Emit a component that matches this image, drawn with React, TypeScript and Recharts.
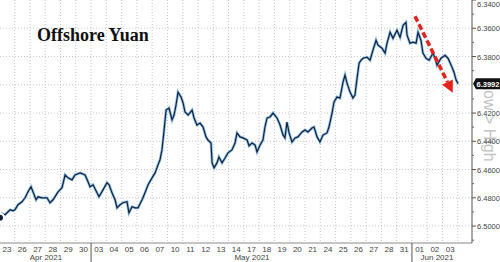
import * as React from "react";
import { LineChart, Line, XAxis, YAxis, CartesianGrid, ReferenceLine } from "recharts";

// trading days shown on the bottom axis (one slot per day)
const DAY_LABELS = ["23", "26", "27", "28", "29", "30", "03", "04", "05", "06", "07", "10", "11", "12", "13", "14", "17", "18", "19", "20", "21", "24", "25", "26", "27", "28", "31", "01", "02", "03"];
const MONTHS = [
  { label: "Apr 2021", at: 3.05 },
  { label: "May 2021", at: 16.53 },
  { label: "Jun 2021", at: 28.64 },
];
const MONTH_BREAKS = [6, 27];

// time in trading-day units, USD/CNH fix
const T = [0.04, 0.17, 0.37, 0.57, 0.7, 0.89, 1.02, 1.22, 1.48, 1.68, 1.87, 2.07, 2.2, 2.4, 2.53, 2.79, 3.12, 3.31, 3.51, 3.84, 4.1, 4.3, 4.49, 4.75, 4.95, 5.28, 5.61, 5.8, 5.93, 6.13, 6.39, 6.52, 6.78, 7.04, 7.18, 7.37, 7.57, 7.7, 7.9, 8.09, 8.35, 8.48, 8.68, 8.88, 9.07, 9.34, 9.53, 9.73, 9.99, 10.19, 10.38, 10.51, 10.64, 10.78, 10.91, 11.1, 11.3, 11.43, 11.56, 11.69, 11.89, 12.02, 12.15, 12.35, 12.61, 12.74, 12.93, 13.13, 13.33, 13.52, 13.65, 13.85, 13.92, 14.05, 14.24, 14.37, 14.57, 14.77, 14.96, 15.22, 15.42, 15.55, 15.75, 15.94, 16.21, 16.34, 16.53, 16.73, 16.86, 17.06, 17.25, 17.38, 17.52, 17.71, 17.91, 18.17, 18.37, 18.56, 18.69, 18.82, 18.96, 19.15, 19.35, 19.54, 19.81, 20.0, 20.2, 20.46, 20.59, 20.79, 20.98, 21.18, 21.44, 21.57, 21.77, 21.9, 22.1, 22.29, 22.49, 22.62, 22.75, 22.95, 23.14, 23.27, 23.41, 23.54, 23.67, 23.8, 24.06, 24.26, 24.45, 24.65, 24.78, 25.04, 25.24, 25.37, 25.57, 25.76, 26.02, 26.22, 26.42, 26.61, 26.68, 26.87, 27.07, 27.27, 27.4, 27.59, 27.72, 27.92, 28.12, 28.38, 28.51, 28.64, 28.9, 29.17, 29.36, 29.62, 29.75, 29.89, 30.02];
const CNH = [6.4941, 6.4913, 6.492, 6.4899, 6.4885, 6.4892, 6.4885, 6.4849, 6.4828, 6.48, 6.4758, 6.4722, 6.4758, 6.4814, 6.4793, 6.48, 6.48, 6.4835, 6.4814, 6.4758, 6.4729, 6.4638, 6.4659, 6.4673, 6.4638, 6.4624, 6.4638, 6.4687, 6.4722, 6.4708, 6.4765, 6.4793, 6.4744, 6.4694, 6.4708, 6.4765, 6.4814, 6.4871, 6.4849, 6.4835, 6.4828, 6.4906, 6.4863, 6.4871, 6.4871, 6.4814, 6.4765, 6.4708, 6.4659, 6.4624, 6.4567, 6.4532, 6.4461, 6.432, 6.4179, 6.4165, 6.4249, 6.4214, 6.4144, 6.4052, 6.4087, 6.4129, 6.4193, 6.4214, 6.4179, 6.4235, 6.4285, 6.4271, 6.4299, 6.4369, 6.4391, 6.4412, 6.4553, 6.4588, 6.4553, 6.4511, 6.4553, 6.4518, 6.4482, 6.4461, 6.4412, 6.4341, 6.4369, 6.4376, 6.4391, 6.4433, 6.4412, 6.4426, 6.4475, 6.4426, 6.4391, 6.4299, 6.4235, 6.4228, 6.42, 6.4235, 6.4285, 6.4355, 6.4376, 6.4264, 6.4341, 6.4405, 6.4376, 6.4369, 6.4334, 6.432, 6.4334, 6.4306, 6.4299, 6.4369, 6.4405, 6.4355, 6.4341, 6.4299, 6.42, 6.4122, 6.4087, 6.4094, 6.3981, 6.3932, 6.3988, 6.4052, 6.4094, 6.4073, 6.3953, 6.3847, 6.3826, 6.3812, 6.3805, 6.3826, 6.3755, 6.3685, 6.372, 6.3741, 6.3776, 6.3706, 6.3628, 6.3671, 6.3614, 6.3664, 6.3579, 6.3558, 6.3649, 6.3706, 6.3699, 6.3706, 6.3628, 6.3685, 6.3776, 6.3812, 6.3826, 6.3776, 6.3812, 6.3861, 6.3812, 6.3791, 6.3812, 6.3875, 6.3911, 6.3967, 6.3992];
const LAST = 6.3992;

const Y_MAJOR = [6.34, 6.36, 6.38, 6.42, 6.44, 6.46, 6.48, 6.5];
const Y_MINOR = [6.35, 6.37, 6.39, 6.41, 6.43, 6.45, 6.47, 6.49, 6.51];
const Y_GRID = [6.36, 6.38, 6.4, 6.42, 6.44, 6.46, 6.48, 6.5];

// red "falling" arrow annotation
const ARROW = [{ x: 27.2, y: 6.3515 }, { x: 29.67, y: 6.4057 }];

const FONT = "'Liberation Sans', Arial, sans-serif";

function XTick({ x, y, payload }: any) {
  const v = payload.value;
  if (MONTH_BREAKS.includes(v)) return <line x1={x} x2={x} y1={y} y2={y + 19} stroke="#555" />;
  const m = MONTHS.find((mm) => mm.at === v);
  if (m)
    return (
      <text x={x} y={y + 17} textAnchor="middle" fontSize={8} fontFamily={FONT} fill="#444">
        {m.label}
      </text>
    );
  return (
    <text x={x} y={y + 9} textAnchor="middle" fontSize={8} fontFamily={FONT} fill="#444">
      {DAY_LABELS[Math.floor(v)]}
    </text>
  );
}

function YTick({ x, y, payload }: any) {
  const v = payload.value;
  if (v === LAST)
    return (
      <g>
        <text x={x + 12} y={y - 2.5} transform={`rotate(90 ${x + 12} ${y - 2.5})`} fontSize={16} fontFamily={FONT} fill="#c4c4c4">
          Low &gt; High
        </text>
        <path d={`M${x + 1},${y} L${x + 4},${y - 5.5} L500,${y - 5.5} L500,${y + 5.5} L${x + 4},${y + 5.5} Z`} fill="#111" />
        <text x={x + 4.5} y={y + 3} fontSize={7.5} fontWeight="bold" fontFamily={FONT} fill="#fff">
          {v.toFixed(4)}
        </text>
      </g>
    );
  if (Y_MINOR.includes(v)) return <line x1={x} x2={x + 2} y1={y} y2={y} stroke="#666" />;
  return (
    <g>
      <line x1={x} x2={x + 4} y1={y} y2={y} stroke="#555" />
      <text x={x + 5} y={Math.max(y + 3, 6.5)} fontSize={7.5} fontFamily={FONT} fill="#444">
        {v.toFixed(4)}
      </text>
    </g>
  );
}

function ArrowShape(p: any) {
  const { x1, y1, x2, y2 } = p;
  const dx = x2 - x1, dy = y2 - y1;
  const len = Math.sqrt(dx * dx + dy * dy);
  const ux = dx / len, uy = dy / len;
  const bx = x2 - ux * 12, by = y2 - uy * 12;
  return (
    <g>
      <line x1={x1} y1={y1} x2={bx} y2={by} stroke="#e3231c" strokeWidth={3.5} strokeDasharray="6 3" />
      <polygon points={`${x2},${y2} ${bx - uy * 6},${by + ux * 6} ${bx + uy * 6},${by - ux * 6}`} fill="#e3231c" />
    </g>
  );
}

export default function App() {
  const rows = T.map((t, i) => ({ t, v: CNH[i] }));
  const xTicks = [...DAY_LABELS.map((_, i) => i + 0.5), ...MONTH_BREAKS, ...MONTHS.map((m) => m.at)];
  const yTicks = [LAST, ...Y_MINOR, ...Y_MAJOR];
  const vGrid = DAY_LABELS.map((_, i) => i + 1);

  return (
    <div style={{ position: "absolute", left: 0, top: 0, width: 500, height: 262, background: "#fff", overflow: "hidden" }}>
      <LineChart width={500} height={262} data={rows} margin={{ top: 0, right: 0, bottom: 0, left: 0 }}>
        <CartesianGrid stroke="#c9c9c9" strokeDasharray="1 2" horizontalValues={Y_GRID} verticalValues={vGrid} />
        <XAxis
          dataKey="t"
          type="number"
          domain={[0.04, 30.93]}
          allowDataOverflow
          ticks={xTicks}
          interval={0}
          tick={(p: any) => <XTick {...p} />}
          tickLine={false}
          tickSize={0}
          tickMargin={0}
          height={19}
          axisLine={{ stroke: "#8a8a8a" }}
        />
        <YAxis
          orientation="right"
          type="number"
          domain={[6.34, 6.512]}
          reversed
          allowDataOverflow
          ticks={yTicks}
          interval={0}
          tick={(p: any) => <YTick {...p} />}
          tickLine={false}
          tickSize={0}
          tickMargin={0}
          width={28}
          axisLine={{ stroke: "#555" }}
        />
        <Line dataKey="v" type="linear" stroke="#8fc1ea" strokeWidth={2.8} dot={false} isAnimationActive={false} />
        <Line dataKey="v" type="linear" stroke="#13203a" strokeWidth={1.2} dot={false} isAnimationActive={false} />
        <ReferenceLine segment={ARROW} shape={ArrowShape} ifOverflow="visible" />
      </LineChart>
      <div
        style={{
          position: "absolute",
          left: 37,
          top: 26,
          fontFamily: "'Liberation Serif', 'Times New Roman', serif",
          fontWeight: "bold",
          fontSize: 18,
          lineHeight: "18px",
          color: "#111",
          whiteSpace: "nowrap",
        }}
      >
        Offshore Yuan
      </div>
    </div>
  );
}
